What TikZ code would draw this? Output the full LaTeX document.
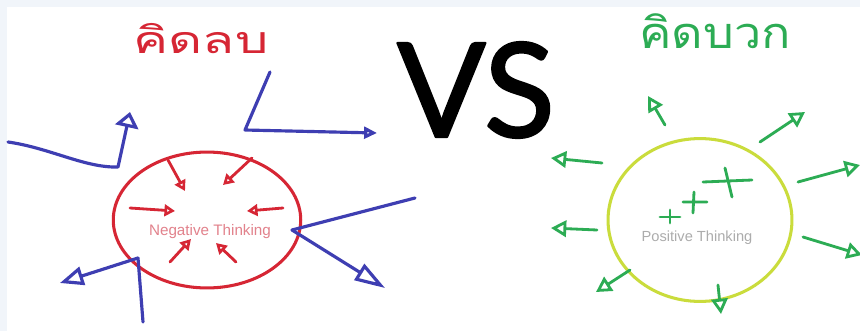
\documentclass[tikz,border=0pt]{standalone}
\usepackage{fontspec}
\setmainfont{Liberation Sans}
\newfontfamily\thaifont[Script=Thai,FakeStretch=1.4]{Loma}
\newfontfamily\thaiwide[Script=Thai,FakeStretch=1.12]{Loma}
\newfontfamily\vsfont[FakeBold=1.6]{Lato}
\usetikzlibrary{arrows.meta,shapes.geometric}
\definecolor{penblue}{RGB}{62,62,178}
\definecolor{penred}{RGB}{214,38,52}
\definecolor{pengreen}{RGB}{44,172,84}
\definecolor{penlime}{RGB}{202,220,60}
\definecolor{paper}{RGB}{241,245,250}
\definecolor{negtext}{RGB}{226,130,140}

\begin{document}
\begin{tikzpicture}[x=0.03cm,y=-0.03cm,line cap=round,line join=round,
    bluepen/.style={draw=penblue,line width=2.7pt},
    redpen/.style={draw=penred,line width=2.4pt},
    greenpen/.style={draw=pengreen,line width=2.4pt},
    ring/.style={ellipse,draw,inner sep=0pt,line width=2.6pt}]
  \useasboundingbox (0,0) rectangle (860,331);
  \fill[paper] (0,0) rectangle (860,331);
  \fill[white] (7,7) rectangle (860,331);

  % titles
  \node[text=penred,font=\thaifont\fontsize{32}{36}\selectfont] (negtitle) at (201,39) {คิดลบ};
  \node[text=pengreen,font=\thaiwide\fontsize{37}{40}\selectfont] (postitle) at (715,31) {คิดบวก};
  \node[font=\vsfont\fontsize{112}{112}\selectfont] (versus) at (476,90) {VS};

  % negative side
  \node[ring,draw=penred,minimum width=160pt,minimum height=116pt] (negring) at (207,220) {};
  \node[text=negtext,font=\fontsize{13}{15}\selectfont] (neglabel) at (210,232) {Negative Thinking};
  \draw[bluepen,-{Triangle[open,length=13pt,width=20pt]}] (8,142) .. controls (50,148) and (85,168) .. (118,167) -- (130,112);
  \draw[bluepen,-{Triangle[open,length=11pt,width=10pt]}] (270,72) -- (245,130) -- (377,133);
  \draw[bluepen] (415,198) -- (292,230);
  \draw[bluepen,-{Triangle[open,length=26pt,width=16pt]}] (292,230) -- (385,288);
  \draw[bluepen,-{Triangle[open,length=20pt,width=16pt]}] (138,258) -- (60,283);
  \draw[bluepen] (138,258) .. controls (140,290) .. (143,322);
  \foreach \a/\b in {{168,160}/{185,191}, {252,158}/{223,185}, {130,208}/{175,211},
                     {283,208}/{247,211}, {170,262}/{191,239}, {236,262}/{216,243}} {
    \draw[redpen,-{Triangle[open,length=9pt,width=10pt]}] (\a) -- (\b);
  }

  % positive side
  \node[ring,draw=penlime,minimum width=157pt,minimum height=139pt] (posring) at (700,220) {};
  \node[text=gray!65,font=\fontsize{12.5}{15}\selectfont] (poslabel) at (697,238) {Positive Thinking};
  \foreach \a/\b in {{665,125}/{648,96}, {760,142}/{805,112}, {798,182}/{860,165},
                     {803,237}/{862,255}, {718,285}/{721,314}, {630,270}/{596,292},
                     {597,230}/{551,228}, {602,163}/{551,158}} {
    \draw[greenpen,-{Triangle[open,length=13pt,width=14pt]}] (\a) -- (\b);
  }
  \draw[greenpen] (703,182) -- (752,180) (725,168) -- (732,197);
  \draw[greenpen] (683,202) -- (707,202) (694,192) -- (693,213);
  \draw[greenpen] (660,217) -- (680,217) (670,210) -- (670,223);
\end{tikzpicture}
\end{document}
